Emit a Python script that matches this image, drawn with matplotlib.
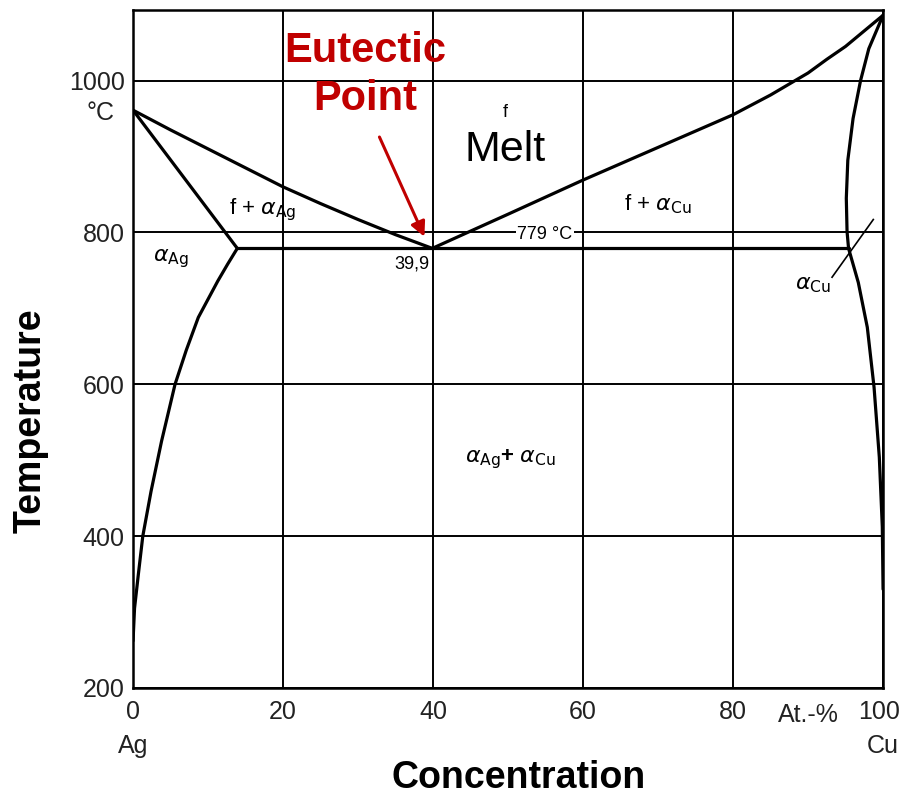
import matplotlib
matplotlib.use("Agg")
import matplotlib.pyplot as plt
import matplotlib.transforms as mtransforms

# Ag-Cu phase diagram (at.-% Cu, deg C)
liq_ag_x = [0, 5, 10, 15, 20, 25, 30, 35, 39.9]
liq_ag_t = [961, 935, 910, 885, 860, 838, 817, 797, 779]

liq_cu_x = [39.9, 50, 60, 70, 80, 85, 90, 92.5, 95, 100]
liq_cu_t = [779, 824, 869, 912, 955, 981, 1010, 1028, 1045, 1086]

sol_ag_x = [0, 13.9]
sol_ag_t = [961, 779]

solvus_ag_x = [13.9, 12.6, 11.3, 10.0, 8.7, 7.1, 5.6, 3.8, 2.4, 1.3, 0.7, 0.2, 0]
solvus_ag_t = [779, 758, 736, 712, 688, 645, 600, 525, 459, 400, 349, 305, 262]

sol_cu_x = [100, 98.1, 97.0, 96.0, 95.3, 95.1, 95.2, 95.4]
sol_cu_t = [1086, 1042, 1000, 950, 895, 845, 801, 779]

solvus_cu_x = [95.4, 96.7, 97.9, 98.8, 99.5, 99.9, 100]
solvus_cu_t = [779, 734, 675, 596, 504, 412, 330]

eut_x = [13.9, 95.4]
eut_t = [779, 779]

x_ticks = [0, 20, 40, 60, 80, 100]
y_ticks = [200, 400, 600, 800, 1000]

font = ["Liberation Sans", "DejaVu Sans"]
red = "#C00000"
grey = "#222222"

fig = plt.figure(figsize=(9.02, 7.97), dpi=100)
ax = fig.add_axes([0.1475, 0.1368, 0.8315, 0.8507])

lw = 2.3
for xs, ts in [(liq_ag_x, liq_ag_t), (liq_cu_x, liq_cu_t), (sol_ag_x, sol_ag_t),
               (solvus_ag_x, solvus_ag_t), (sol_cu_x, sol_cu_t),
               (solvus_cu_x, solvus_cu_t), (eut_x, eut_t)]:
    ax.plot(xs, ts, color="black", lw=lw, solid_capstyle="round",
            solid_joinstyle="round", zorder=2)

ax.set_xlim(0, 100)
ax.set_ylim(200, 1093)
ax.set_xticks(x_ticks)
ax.set_yticks(y_ticks)
ax.set_xticklabels([str(v) for v in x_ticks], family=font, fontsize=18, color=grey)
ax.set_yticklabels([str(v) for v in y_ticks], family=font, fontsize=18, color=grey)
ax.tick_params(axis="x", length=0, pad=9)
ax.tick_params(axis="y", length=0, pad=6)
ax.grid(True, color="black", lw=1.4)
ax.set_axisbelow(True)
for s in ax.spines.values():
    s.set_linewidth(1.8)

# keep the "100" label inside the figure edge
last = ax.get_xticklabels()[-1]
last.set_transform(last.get_transform() + mtransforms.ScaledTranslation(-4 / 100, 0, fig.dpi_scale_trans))

# annotations inside the diagram
ax.text(49.6, 909, "Melt", fontsize=31, family=font, ha="center", va="center")
ax.text(49.6, 958, "f", fontsize=13, family=font, ha="center", va="center")
ax.text(17.3, 830, r"f + $\alpha_{\mathrm{Ag}}$", fontsize=16, family=font, ha="center", va="center")
ax.text(5.1, 765, r"$\alpha_{\mathrm{Ag}}$", fontsize=16, family=font, ha="center", va="center")
ax.text(70.0, 837, r"f + $\alpha_{\mathrm{Cu}}$", fontsize=16, family=font, ha="center", va="center")
ax.text(90.7, 732, r"$\alpha_{\mathrm{Cu}}$", fontsize=16, family=font, ha="center", va="center")
ax.plot([93.2, 98.7], [741, 817], color="black", lw=1.2, zorder=2)
ax.text(50.3, 502, r"$\alpha_{\mathrm{Ag}}$+ $\alpha_{\mathrm{Cu}}$", fontsize=16, family=font,
        ha="center", va="center", fontweight="bold")
ax.text(54.9, 797, "779 °C", fontsize=13, family=font, ha="center", va="center", zorder=3,
        bbox=dict(facecolor="white", edgecolor="none", pad=1))
ax.text(37.2, 758, "39,9", fontsize=13, family=font, ha="center", va="center")

# eutectic point callout
ax.text(31.0, 1007, "Eutectic\nPoint", fontsize=30, fontweight="bold", family=font,
        color=red, ha="center", va="center", linespacing=1.25)
ax.annotate("", xy=(39.0, 791), xytext=(32.7, 929),
            arrowprops=dict(arrowstyle="-|>", color=red, lw=2.2, mutation_scale=22))

# labels around the axes
ax.text(-4.3, 957, "°C", fontsize=18, family=font, ha="center", va="center", color=grey)
trans = mtransforms.blended_transform_factory(ax.transData, ax.transAxes)
ax.text(90.1, -0.04, "At.-%", fontsize=18, family=font, ha="center", va="center",
        transform=trans, color=grey)
ax.text(0, -0.085, "Ag", fontsize=18, family=font, ha="center", va="center",
        transform=trans, color=grey)
ax.text(100, -0.085, "Cu", fontsize=18, family=font, ha="center", va="center",
        transform=trans, color=grey)

fig.text(0.575, 0.024, "Concentration", fontsize=27, fontweight="bold", family=font,
         ha="center", va="center")
fig.text(0.034, 0.472, "Temperature", fontsize=27, fontweight="bold", family=font,
         ha="center", va="center", rotation=90)

fig.savefig("out.png", dpi=100)
